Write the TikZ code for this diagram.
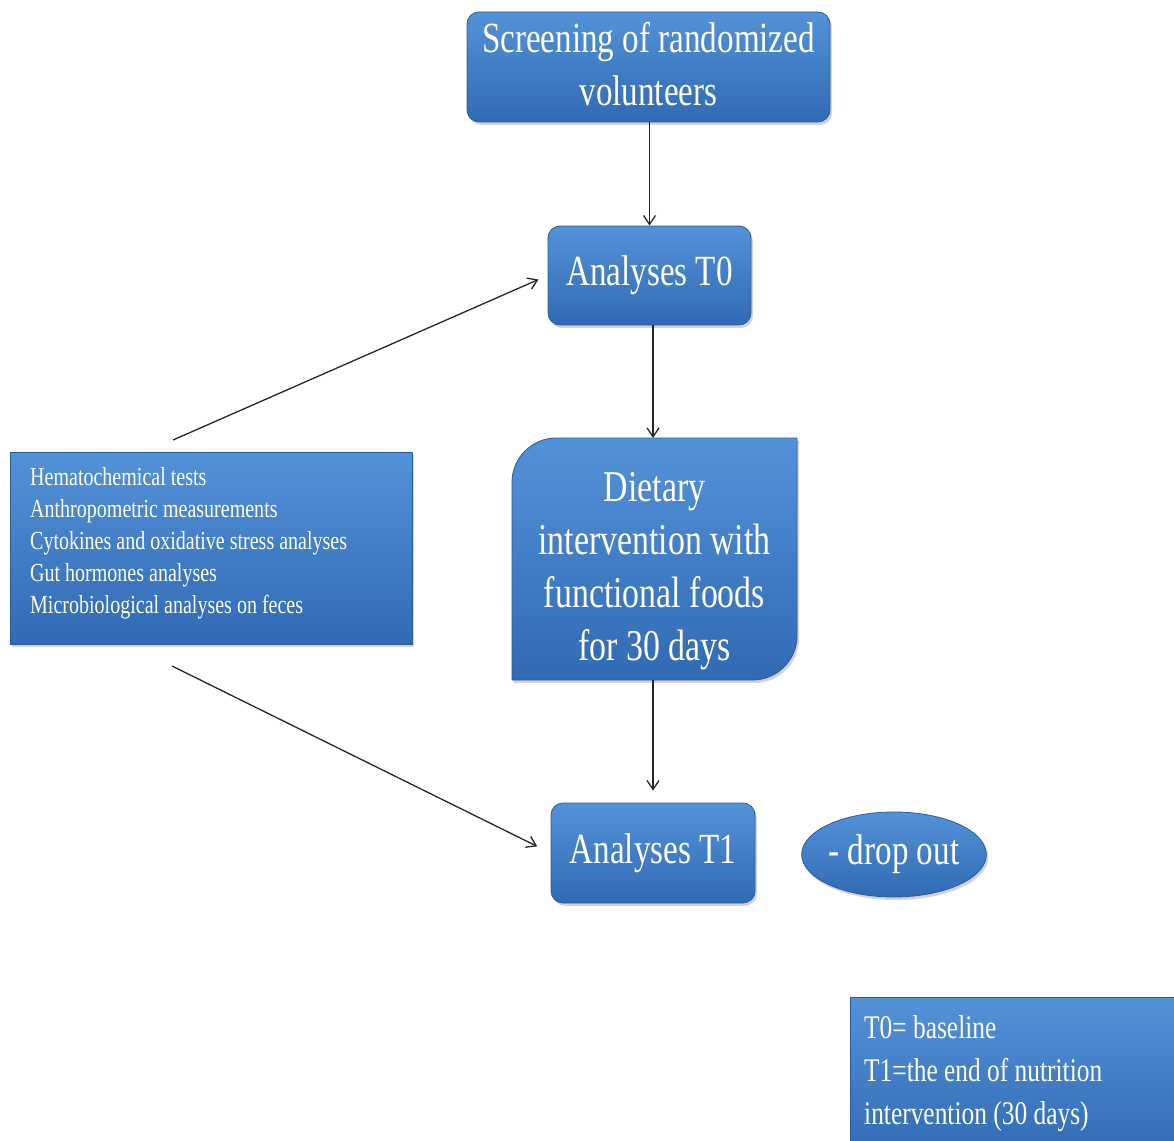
\documentclass[tikz,border=0pt]{standalone}
\usepackage{fontspec}
\setmainfont{Liberation Serif}[FakeStretch=0.77]
\usetikzlibrary{shapes.geometric,shadows,arrows.meta}
\definecolor{bluetop}{RGB}{84,146,216}
\definecolor{bluebot}{RGB}{48,106,180}
\definecolor{blueedge}{RGB}{42,92,160}
\begin{document}
\begin{tikzpicture}[x=1pt,y=-1pt,
  fillblue/.style={top color=bluetop, bottom color=bluebot, draw=blueedge, line width=0.8pt,
    drop shadow={opacity=0.35, shadow xshift=2pt, shadow yshift=-3pt}},
  rbox/.style={fillblue, rounded corners=12pt, text=white, align=center, inner sep=0pt,
    font=\fontsize{43}{53}\selectfont},
  sbox/.style={fillblue, inner sep=0pt},
  wtext/.style={text=white, align=left, inner sep=0pt},
  arr/.style={-{Straight Barb[length=9pt,width=12pt]}, line width=1.3pt, black!85}]
\useasboundingbox (0,0) rectangle (1174,1140);

% main boxes
\node[rbox, minimum width=363pt, minimum height=110pt, text depth=6pt] (scr) at (648.5,67)
  {Screening of randomized\\volunteers};
\node[rbox, minimum width=203pt, minimum height=99pt] (t0) at (649.5,275.5) {Analyses T0};

% dietary box with two rounded corners
\path[fillblue] (512,680) -- (512,482) .. controls (512,458) and (532,438) .. (556,438) -- (797,438)
  -- (797,636) .. controls (797,660) and (777,680) .. (753,680) -- cycle;
\node[text=white, align=center, inner sep=0pt, minimum width=285pt, minimum height=242pt,
  font=\fontsize{44}{53}\selectfont] (diet) at (654.5,571)
  {Dietary\\intervention with\\functional foods\\for 30 days};
\coordinate (dietN) at (653,438);
\coordinate (dietS) at (653,680);

\node[rbox, minimum width=204pt, minimum height=100pt] (t1) at (653,853) {Analyses T1};
\node[fillblue, ellipse, minimum width=182pt, minimum height=85pt, inner sep=0pt,
  text=white, font=\fontsize{43}{48}\selectfont] (drop) at (894,854.5) {- drop out};

% left list box
\node[sbox, minimum width=402pt, minimum height=192pt] (list) at (211,548) {};
\node[wtext, anchor=west, font=\fontsize{26}{32}\selectfont] (listtext) at (30,543)
  {Hematochemical  tests\\Anthropometric measurements\\Cytokines and oxidative stress analyses\\Gut hormones analyses\\Microbiological analyses on feces};

% legend box
\node[sbox, minimum width=330pt, minimum height=160pt, anchor=north west] (legend) at (850,997) {};
\node[wtext, anchor=north west, font=\fontsize{33}{43}\selectfont] (legendtext) at (864,1015)
  {T0= baseline\\T1=the end of nutrition\\intervention (30 days)};

% connectors
\draw[arr] (scr.south -| t0.north) -- (t0.north);
\draw[arr] (t0.south -| dietN) -- (dietN);
\draw[arr] (dietS) -- ([yshift=12pt]t1.north -| dietS);
\coordinate (a1) at (173,440);
\coordinate (a2) at (172,666);
\draw[arr, shorten >=10pt] (a1) -- (t0.west);
\draw[arr, shorten >=15pt] (a2) -- (t1.west);
\end{tikzpicture}
\end{document}
